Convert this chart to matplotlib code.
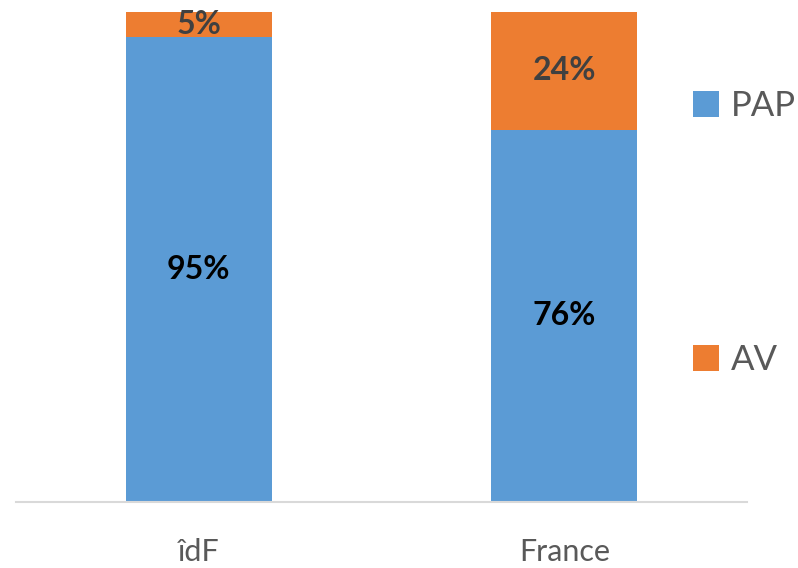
import matplotlib
matplotlib.use("Agg")
import matplotlib.pyplot as plt
import numpy as np

categories = ["îdF", "France"]
pap = [95, 76]
av = [5, 24]
series_names = ["PAP", "AV"]

blue = "#5B9BD5"
orange = "#ED7D31"

plt.rcParams['font.family'] = ['Lato', 'DejaVu Sans']

fig = plt.figure(figsize=(7.98, 5.68), dpi=100)
ax = fig.add_axes([16 / 798, 66 / 568, 731 / 798, 490 / 568])

x = np.arange(len(categories))
b1 = ax.bar(x, pap, width=0.4, color=blue, label=series_names[0])
b2 = ax.bar(x, av, width=0.4, bottom=pap, color=orange, label=series_names[1])

ax.bar_label(b1, labels=[f"{v}%" for v in pap], label_type="center",
             fontsize=23, fontweight="bold", color="black")
ax.bar_label(b2, labels=[f"{v}%" for v in av], label_type="center",
             fontsize=23, fontweight="bold", color="#404040")

ax.set_xlim(-0.5, 1.5)
ax.set_ylim(0, 100)
ax.set_xticks(x)
ax.set_xticklabels(categories, fontsize=22, color="#595959")
ax.tick_params(axis="x", length=0, pad=26)
ax.set_yticks([])
for s in ["top", "left", "right"]:
    ax.spines[s].set_visible(False)
ax.spines["bottom"].set_color("#D9D9D9")
ax.spines["bottom"].set_linewidth(1.5)

leg = fig.legend(handles=[b1, b2], loc="upper left",
                 bbox_to_anchor=(693 / 798, 1 - 90 / 568),
                 frameon=False, fontsize=25, handlelength=0.75, handleheight=0.75,
                 handletextpad=0.35, labelspacing=6.4, borderpad=0, borderaxespad=0)
for t in leg.get_texts():
    t.set_color("#595959")

fig.savefig("out.png", dpi=100)
